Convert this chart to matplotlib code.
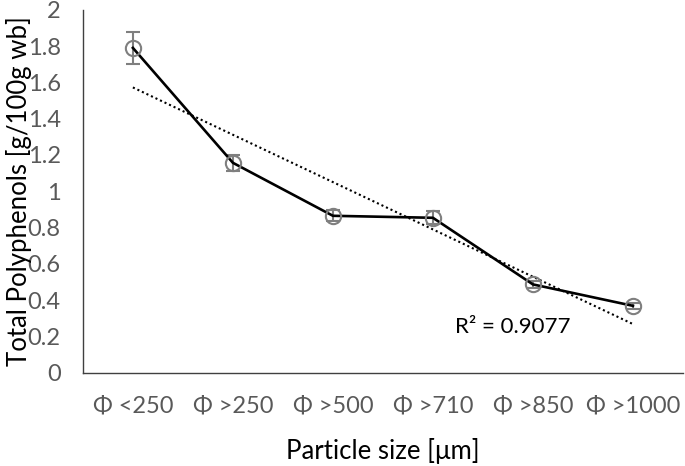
import numpy as np
import matplotlib
matplotlib.use("Agg")
import matplotlib.pyplot as plt

plt.rcParams["font.family"] = ["Lato", "DejaVu Sans"]

categories = ["Φ <250", "Φ >250", "Φ >500", "Φ >710", "Φ >850", "Φ >1000"]
polyphenols = [1.79, 1.157, 0.865, 0.854, 0.487, 0.369]
errors = [0.09, 0.045, 0.03, 0.035, 0.02, 0.017]

GRAY = "#7f7f7f"
TICK = "#595959"

fig = plt.figure(figsize=(6.85, 4.66), dpi=100)
ax = fig.add_axes([0.121, 0.2, 0.876, 0.779])

x = np.arange(len(categories))
ax.errorbar(x, polyphenols, yerr=errors, fmt="none", ecolor=GRAY,
            elinewidth=1.5, capsize=5, capthick=1.5, zorder=2)
ax.plot(x, polyphenols, color="black", lw=1.9, zorder=3)
ax.plot(x, polyphenols, "o", ms=11, mfc="none", mec=GRAY, mew=1.5, zorder=4)

# linear trendline
coef = np.polyfit(x, polyphenols, 1)
ax.plot(x, np.polyval(coef, x), color="black", lw=1.5, ls=(0, (1, 1.4)), zorder=2)
ax.text(3.22, 0.25, "R² = 0.9077", fontsize=16, va="center", ha="left", color="black")

ax.set_xlim(-0.5, 5.5)
ax.set_ylim(0, 2)
ax.set_yticks(np.arange(0, 2.01, 0.2))
ax.set_yticklabels(["0", "0.2", "0.4", "0.6", "0.8", "1", "1.2", "1.4", "1.6", "1.8", "2"])
ax.set_xticks(x)
ax.set_xticklabels(categories)
ax.tick_params(axis="both", length=0, labelsize=17, labelcolor=TICK)
ax.tick_params(axis="x", pad=16)
ax.tick_params(axis="y", pad=16)

for s in ["top", "right"]:
    ax.spines[s].set_visible(False)
for s in ["left", "bottom"]:
    ax.spines[s].set_color("#404040")
    ax.spines[s].set_linewidth(1.0)

ax.set_xlabel("Particle size [μm]", fontsize=18.5, labelpad=16)
ax.set_ylabel("Total Polyphenols [g/100g wb]", fontsize=18.5, labelpad=-3)

fig.savefig("out.png", dpi=100)
